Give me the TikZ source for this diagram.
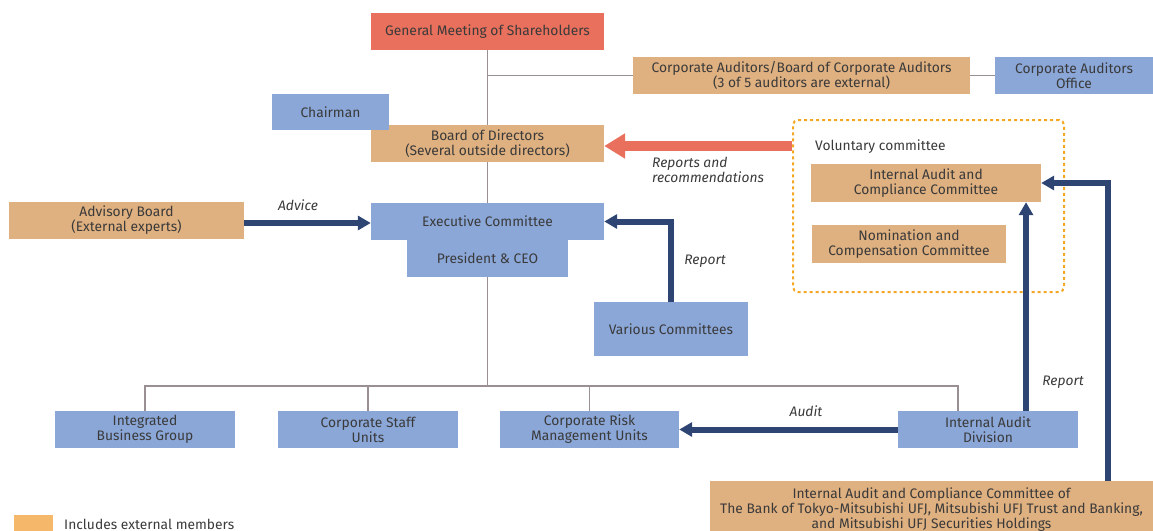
\documentclass[tikz,border=0pt]{standalone}
\usepackage{fontspec}
\setmainfont{Fira Sans}
\usepackage{tikz}
\usetikzlibrary{arrows.meta,positioning,fit,backgrounds,calc}

\definecolor{redbox}{HTML}{E8705C}
\definecolor{tanbox}{HTML}{DFB080}
\definecolor{bluebox}{HTML}{8BA7D8}
\definecolor{navyarr}{HTML}{2E4573}
\definecolor{greyline}{HTML}{9A8F93}
\definecolor{dotorange}{HTML}{F5A623}
\definecolor{legendorange}{HTML}{F5B86A}
\definecolor{txt}{HTML}{3A3A3A}

\begin{document}
\begin{tikzpicture}[x=1pt, y=-1pt,
  every node/.style={text=txt},
  box/.style={inner sep=0pt, align=center, minimum height=37pt,
              font=\fontsize{13.8}{15}\selectfont},
  redb/.style={box, fill=redbox},
  tanb/.style={box, fill=tanbox},
  blueb/.style={box, fill=bluebox},
  arr/.style={draw=navyarr, line width=6pt, -{Triangle[length=13pt, width=14pt]}},
  redarr/.style={draw=redbox, line width=10pt, -{Triangle[length=21pt, width=24pt]}},
  link/.style={draw=greyline, line width=1.5pt},
  lbl/.style={font=\fontsize{13.8}{15}\selectfont\itshape, inner sep=0pt}]

  \useasboundingbox (0,0) rectangle (1153,530);

  % top of the tree
  \node[redb,  minimum width=233pt] (gm)     at (487.5,31.5)  {General Meeting of Shareholders};
  \node[tanb,  minimum width=337pt] (aud)    at (801.5,75.5)  {Corporate Auditors/Board of Corporate Auditors\\(3 of 5 auditors are external)};
  \node[blueb, minimum width=158pt] (audoff) at (1074,75.5)   {Corporate Auditors\\Office};
  \node[tanb,  minimum width=233pt] (board)  at (487.5,143.5) {Board of Directors\\(Several outside directors)};
  \node[blueb, minimum width=117pt, minimum height=36pt] (chair) at (330.5,112) {Chairman};

  % executive level
  \node[blueb, minimum width=233pt] (exec)    at (487.5,221.5) {Executive Committee};
  \node[blueb, minimum width=161pt] (ceo)     at (487.5,258.5) {President \& CEO};
  \node[tanb,  minimum width=235pt] (adv)     at (126.5,220.5) {Advisory Board\\(External experts)};
  \node[blueb, minimum width=154pt, minimum height=54pt] (various) at (671,329) {Various Committees};

  % voluntary committees
  \node[tanb, minimum width=230pt, minimum height=38pt] (iac) at (926,183) {Internal Audit and\\Compliance Committee};
  \node[tanb, minimum width=194pt, minimum height=38pt] (nom) at (909,244) {Nomination and\\Compensation Committee};
  \node[draw=dotorange, line width=2pt, dash pattern=on 3pt off 3pt, rounded corners=5pt,
        inner sep=0pt, minimum width=271pt, minimum height=172pt] (volbox) at (928.5,206) {};
  \node[box, minimum height=0pt, anchor=west] (vol) at (815,147) {Voluntary committee};

  % bottom row
  \node[blueb, minimum width=180pt] (ibg)   at (145,429.5)   {Integrated\\Business Group};
  \node[blueb, minimum width=180pt] (staff) at (368,429.5)   {Corporate Staff\\Units};
  \node[blueb, minimum width=179pt] (risk)  at (589.5,429.5) {Corporate Risk\\Management Units};
  \node[blueb, minimum width=180pt] (iad)   at (988,429.5)   {Internal Audit\\Division};
  \node[tanb,  minimum width=443pt, minimum height=58pt] (mufg) at (931.5,510)
    {Internal Audit and Compliance Committee of\\The Bank of Tokyo-Mitsubishi UFJ, Mitsubishi UFJ Trust and Banking,\\and Mitsubishi UFJ Securities Holdings};

  % legend
  \node[fill=legendorange, inner sep=0pt, minimum width=39pt, minimum height=20pt] (key) at (33.5,525) {};
  \node[box, minimum height=0pt, anchor=west] (keytxt) at (64,524) {Includes external members};

  % grey tree lines behind the boxes
  \coordinate (bus)  at (487.5,386);
  \coordinate (iadx) at (958,0);
  \begin{scope}[on background layer]
    \draw[link] (gm) -- (bus);
    \draw[link] (gm |- aud) -- (aud.west);
    \draw[link] (aud.east) -- (audoff.west);
    \draw[link] (ibg.north) |- (iadx |- bus) -- (iadx |- iad.north);
    \draw[link] (staff.north) -- (staff |- bus);
    \draw[link] (risk.north) -- (risk |- bus);
  \end{scope}

  % reporting and advice arrows
  \draw[redarr] (volbox.west |- 0,146) -- (board.east |- 0,146);
  \node[lbl, anchor=north west, align=left] (recs) at (652,157) {Reports and\\recommendations};

  \draw[arr] (adv.east |- 0,223) -- (exec.west |- 0,223);
  \node[lbl] (advlbl) at (298,205) {Advice};

  \draw[arr] (various.north) |- (exec.east);
  \node[lbl] (replbl) at (705,261) {Report};

  \draw[arr] (iad.west) -- (risk.east);
  \node[lbl] (audlbl) at (806,411) {Audit};

  \coordinate (repx) at (1026,0);
  \draw[arr] (iad.north -| repx) -- (iac.south -| repx);
  \node[lbl] (replbl2) at (1063,382) {Report};

  \coordinate (mufgx) at (1108,0);
  \draw[arr] (mufg.north -| mufgx) |- (iac.east);
\end{tikzpicture}
\end{document}
